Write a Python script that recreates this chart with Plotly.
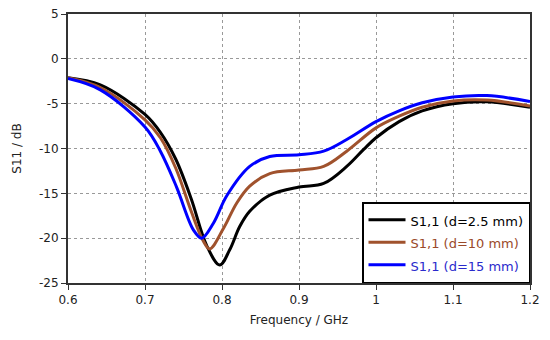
import plotly.graph_objects as go

# d = 2.5 mm
freq_d25 = [0.6, 0.642, 0.7, 0.72, 0.74, 0.76, 0.78, 0.797, 0.81, 0.823, 0.836, 0.862, 0.9, 0.932, 0.962, 0.984, 1.0, 1.03, 1.06, 1.1, 1.144, 1.2]
s11_d25 = [-2.1, -2.9, -6.2, -8.2, -11.2, -15.6, -20.8, -23.0, -21.3, -18.7, -17.0, -15.2, -14.3, -13.9, -12.0, -10.1, -8.8, -7.0, -5.8, -5.0, -4.8, -5.4]

# d = 10 mm
freq_d10 = [0.6, 0.642, 0.7, 0.72, 0.74, 0.76, 0.775, 0.784, 0.802, 0.819, 0.836, 0.862, 0.9, 0.932, 0.962, 1.0, 1.03, 1.06, 1.1, 1.144, 1.2]
s11_d10 = [-2.1, -3.2, -6.8, -8.8, -12.2, -17.0, -20.2, -21.2, -18.9, -16.1, -14.2, -12.8, -12.4, -12.0, -10.3, -7.7, -6.4, -5.4, -4.7, -4.6, -5.25]

# d = 15 mm
freq_d15 = [0.6, 0.642, 0.7, 0.72, 0.741, 0.763, 0.7736, 0.789, 0.806, 0.836, 0.862, 0.9, 0.932, 0.962, 1.0, 1.03, 1.06, 1.1, 1.144, 1.2]
s11_d15 = [-2.2, -3.46, -7.6, -10.3, -14.3, -19.1, -20.0, -18.3, -15.3, -12.0, -10.9, -10.7, -10.3, -9.0, -7.0, -5.8, -4.9, -4.25, -4.1, -4.75]

series_names = ["S1,1 (d=2.5 mm)", "S1,1 (d=10 mm)", "S1,1 (d=15 mm)"]
series_colors = ["#000000", "#A0522D", "#0000FF"]
text_colors = ["#000000", "#9A4A2A", "#2A2ACC"]

x_ticks = [0.6, 0.7, 0.8, 0.9, 1.0, 1.1, 1.2]
x_tick_labels = ["0.6", "0.7", "0.8", "0.9", "1", "1.1", "1.2"]
y_ticks = [5, 0, -5, -10, -15, -20, -25]
y_tick_labels = ["5", "0", "-5", "-10", "-15", "-20", "-25"]

fig = go.Figure()
for xs, ys, name, col, tcol in zip([freq_d25, freq_d10, freq_d15],
                                   [s11_d25, s11_d10, s11_d15],
                                   series_names, series_colors, text_colors):
    fig.add_trace(go.Scatter(
        x=xs, y=ys, mode="lines",
        line=dict(color=col, width=3, shape="spline", smoothing=1.0),
        name=f'<span style="color:{tcol};font-size:13px">{name}</span>',
    ))

axis_common = dict(
    showline=True, linecolor="#333333", linewidth=2, mirror=True,
    showgrid=True, gridcolor="#999999", griddash="dot", gridwidth=1,
    ticks="outside", ticklen=5, tickcolor="#333333", tickwidth=1,
    zeroline=False, automargin=False, ticklabeloverflow="allow",
    tickfont=dict(family="DejaVu Sans", size=12, color="#222222"),
    title_font=dict(family="DejaVu Sans", size=12, color="#222222"),
)

# page body has an 8px margin, so the figure is sized/offset accordingly
fig.update_layout(
    width=534, height=324,
    margin=dict(l=60, r=12, t=6, b=49),
    paper_bgcolor="white", plot_bgcolor="white",
    font=dict(family="DejaVu Sans", size=12, color="#222222"),
    xaxis=dict(range=[0.6, 1.2], tickvals=x_ticks, ticktext=x_tick_labels,
               title=dict(text="Frequency / GHz", standoff=9), **axis_common),
    yaxis=dict(range=[-25, 5], tickvals=y_ticks, ticktext=y_tick_labels,
               title=dict(text="S11 / dB", standoff=15), **axis_common),
    legend=dict(x=1, y=0, xanchor="right", yanchor="bottom",
                bgcolor="white", bordercolor="#000000", borderwidth=1.5,
                font=dict(family="DejaVu Sans", size=15),
                itemwidth=37, tracegroupgap=0),
    showlegend=True,
)

fig.write_html("out.html")
